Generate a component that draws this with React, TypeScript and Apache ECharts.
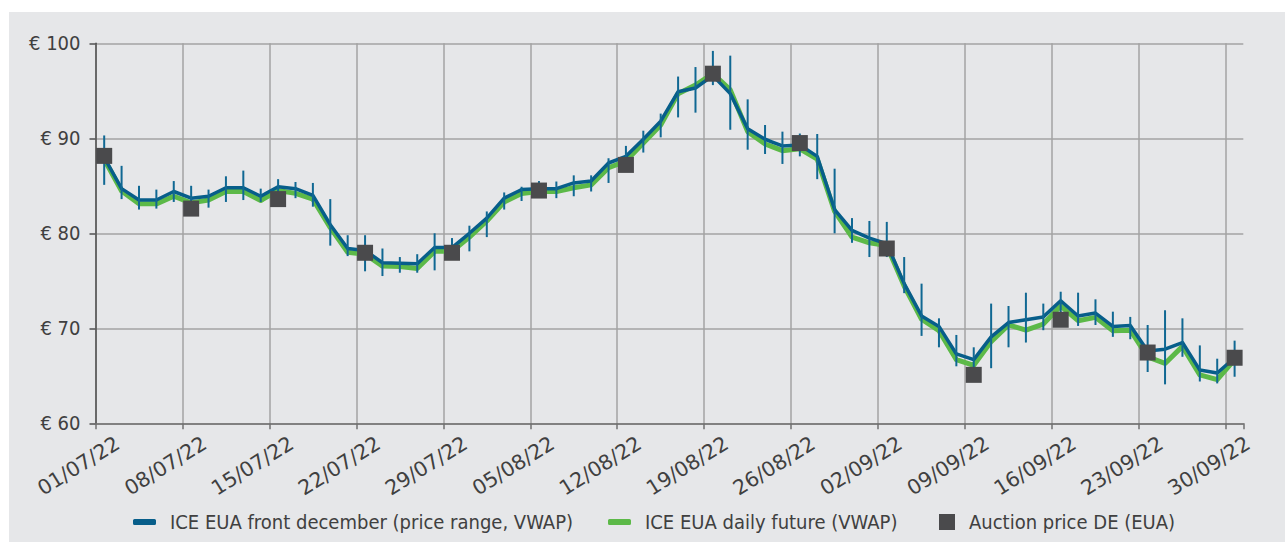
import React, { useEffect, useRef } from 'react';
import * as echarts from 'echarts';

const dates = [
  '01/07/22', '04/07/22', '05/07/22', '06/07/22', '07/07/22', '08/07/22', '11/07/22', '12/07/22', '13/07/22', '14/07/22',
  '15/07/22', '18/07/22', '19/07/22', '20/07/22', '21/07/22', '22/07/22', '25/07/22', '26/07/22', '27/07/22', '28/07/22',
  '29/07/22', '01/08/22', '02/08/22', '03/08/22', '04/08/22', '05/08/22', '08/08/22', '09/08/22', '10/08/22', '11/08/22',
  '12/08/22', '15/08/22', '16/08/22', '17/08/22', '18/08/22', '19/08/22', '22/08/22', '23/08/22', '24/08/22', '25/08/22',
  '26/08/22', '29/08/22', '30/08/22', '31/08/22', '01/09/22', '02/09/22', '05/09/22', '06/09/22', '07/09/22', '08/09/22',
  '09/09/22', '12/09/22', '13/09/22', '14/09/22', '15/09/22', '16/09/22', '19/09/22', '20/09/22', '21/09/22', '22/09/22',
  '23/09/22', '26/09/22', '27/09/22', '28/09/22', '29/09/22', '30/09/22',
];

const tickLabels = [
  '01/07/22', '08/07/22', '15/07/22', '22/07/22', '29/07/22', '05/08/22', '12/08/22',
  '19/08/22', '26/08/22', '02/09/22', '09/09/22', '16/09/22', '23/09/22', '30/09/22',
];

const frontDec = [
  88.0, 84.7, 83.5, 83.5, 84.4, 83.7, 83.9, 84.8, 84.8, 83.9,
  84.9, 84.7, 84.0, 80.9, 78.4, 78.2, 76.9, 76.85, 76.8, 78.5,
  78.5, 80.0, 81.6, 83.7, 84.6, 84.7, 84.7, 85.3, 85.5, 87.4,
  88.1, 89.9, 91.8, 94.9, 95.3, 96.6, 94.7, 91.0, 89.9, 89.2,
  89.3, 88.1, 82.5, 80.3, 79.5, 78.9, 74.7, 71.3, 70.2, 67.3,
  66.7, 69.1, 70.6, 70.9, 71.2, 72.9, 71.3, 71.6, 70.2, 70.3,
  67.6, 67.8, 68.5, 65.6, 65.3, 66.9,
];

const dailyFuture = [
  87.8, 84.45, 83.1, 83.1, 83.9, 83.2, 83.5, 84.4, 84.4, 83.45,
  84.5, 84.2, 83.6, 80.6, 78.0, 77.8, 76.55, 76.5, 76.3, 78.1,
  78.1, 79.6, 81.3, 83.3, 84.2, 84.4, 84.4, 84.8, 85.1, 86.9,
  87.6, 89.5, 91.4, 94.7, 95.6, 96.8, 95.1, 90.7, 89.4, 88.7,
  88.9, 87.8, 82.3, 79.6, 79.0, 78.7, 74.45, 70.95, 69.75, 66.7,
  66.1, 68.6, 70.35, 69.8, 70.45, 72.35, 70.8, 71.15, 69.75, 69.8,
  67.0, 66.3, 68.1, 65.1, 64.6, 66.7,
];

const rangeHigh = [
  90.3, 87.1, 85.0, 84.6, 85.5, 85.0, 84.6, 86.0, 86.6, 84.7,
  85.7, 85.4, 85.3, 83.6, 79.8, 79.8, 78.4, 77.5, 77.8, 80.0,
  79.5, 80.8, 82.3, 84.3, 84.9, 85.5, 85.45, 86.1, 86.1, 87.9,
  89.2, 90.8, 92.6, 96.5, 97.5, 99.2, 98.7, 94.1, 91.4, 90.7,
  90.5, 90.45, 86.8, 81.6, 81.3, 81.2, 77.5, 74.7, 71.05, 69.3,
  68.0, 72.6, 72.35, 73.75, 72.6, 73.85, 73.75, 73.05, 71.75, 71.2,
  70.35, 71.9, 71.05, 68.2, 66.8, 68.7,
];

const rangeLow = [
  85.1, 83.6, 82.5, 82.6, 83.3, 83.0, 82.7, 83.3, 83.5, 83.3,
  83.6, 83.7, 82.8, 78.7, 77.6, 76.0, 75.5, 75.85, 75.85, 76.1,
  77.3, 78.1, 79.6, 82.5, 83.4, 84.0, 83.7, 83.9, 84.4, 85.3,
  86.5, 88.5, 90.1, 92.2, 92.7, 95.6, 90.9, 88.8, 88.35, 87.3,
  88.1, 85.7, 80.0, 79.0, 77.5, 77.5, 73.7, 69.2, 68.0, 66.0,
  64.5, 65.8, 68.0, 68.5, 69.8, 70.3, 70.25, 70.35, 69.1, 68.85,
  65.4, 64.1, 67.0, 64.4, 64.2, 64.9,
];

const auctionDates = [
  '01/07/22', '08/07/22', '15/07/22', '22/07/22', '29/07/22', '05/08/22', '12/08/22',
  '19/08/22', '26/08/22', '02/09/22', '09/09/22', '16/09/22', '23/09/22', '30/09/22',
];
const auctionPrices = [88.15, 82.6, 83.6, 77.95, 77.95, 84.5, 87.2, 96.8, 89.5, 78.4, 65.1, 70.9, 67.45, 66.9];

const NAME_FRONT = 'ICE EUA front december (price range, VWAP)';
const NAME_DAILY = 'ICE EUA daily future (VWAP)';
const NAME_AUCTION = 'Auction price DE (EUA)';

const FONT = '"Liberation Sans Narrow", "DejaVu Sans Condensed", "Liberation Sans", sans-serif';
const DATE_FONT = '"DejaVu Sans", "Liberation Sans", sans-serif';
const TEXT = '#404040';
const BLUE = '#075e8a';
const BAR = '#106893';
const GREEN = '#5cb948';
const SQUARE = '#4a4a4c';
const GRIDC = '#a3a3a3';

export default function App() {
  const ref = useRef<HTMLDivElement>(null);

  useEffect(() => {
    const chart = echarts.init(ref.current!, null, { renderer: 'svg' });

    const gridLeft = 86.5;
    const gridTop = 31.3;
    const gridW = 1147.8;
    const gridH = 380;
    const bw = gridW / dates.length;

    const splitColors = tickLabels.map(() => GRIDC).concat(['rgba(0,0,0,0)']);
    const legendText = { color: TEXT, fontSize: 20, fontFamily: FONT, padding: [0, 0, 0, 9] };

    const option: any = {
      animation: false,
      backgroundColor: 'transparent',
      textStyle: { fontFamily: FONT },
      grid: [
        { left: gridLeft, top: gridTop, width: gridW, height: gridH },
        { left: gridLeft - 4, top: gridTop, width: gridW + bw, height: gridH },
      ],
      legend: [
        {
          data: [NAME_FRONT], left: 124, top: 500, padding: 0, icon: 'roundRect', itemWidth: 23, itemHeight: 6,
          textStyle: legendText,
        },
        {
          data: [NAME_DAILY], left: 599, top: 500, padding: 0, icon: 'roundRect', itemWidth: 23, itemHeight: 6,
          textStyle: legendText,
        },
        {
          data: [NAME_AUCTION], left: 930, top: 500, padding: 0, icon: 'rect', itemWidth: 16, itemHeight: 16,
          textStyle: legendText,
        },
      ],
      xAxis: [
        {
          type: 'category', gridIndex: 0, data: dates, boundaryGap: true,
          axisLine: { show: true, lineStyle: { color: '#707070', width: 1.5 } },
          axisTick: { show: true, length: 6, interval: (i: number, v: string) => tickLabels.includes(v), lineStyle: { color: '#707070', width: 1.5 } },
          axisLabel: { show: false },
          splitLine: { show: true, interval: (i: number, v: string) => tickLabels.includes(v), lineStyle: { color: splitColors, width: 1.5 } },
        },
        {
          type: 'category', gridIndex: 1, data: [''].concat(dates), boundaryGap: true,
          axisLine: { show: false }, axisTick: { show: false }, splitLine: { show: false },
          axisLabel: {
            show: true, interval: 0, rotate: 32, margin: 18,
            color: TEXT, fontSize: 20.5, fontFamily: DATE_FONT,
            formatter: (v: string) => (tickLabels.includes(v) ? v : ''),
          },
        },
      ],
      yAxis: [
        {
          type: 'value', gridIndex: 0, min: 60, max: 100, interval: 10,
          axisLine: { show: true, lineStyle: { color: '#505050', width: 1.5 } },
          axisTick: { show: true, length: 6, lineStyle: { color: '#505050', width: 1.5 } },
          axisLabel: { color: TEXT, fontSize: 20, fontFamily: FONT, margin: 15, formatter: (v: number) => '€ ' + v },
          splitLine: { show: true, lineStyle: { color: GRIDC, width: 1.5 } },
        },
        { type: 'value', gridIndex: 1, min: 60, max: 100, show: false },
      ],
      series: [
        {
          name: NAME_DAILY, type: 'line', xAxisIndex: 0, yAxisIndex: 0, data: dailyFuture,
          symbol: 'none', z: 2, color: GREEN,
          lineStyle: { color: GREEN, width: 5, join: 'round' },
        },
        {
          name: NAME_FRONT, type: 'line', xAxisIndex: 0, yAxisIndex: 0, data: frontDec,
          symbol: 'none', z: 3, color: BLUE,
          lineStyle: { color: BLUE, width: 3.5, join: 'round' },
        },
        {
          name: 'range', type: 'custom', xAxisIndex: 0, yAxisIndex: 0, z: 4,
          data: dates.map((d, i) => [i, rangeLow[i], rangeHigh[i]]),
          encode: { x: 0, y: [1, 2] },
          renderItem: (params: any, api: any) => {
            const p1 = api.coord([api.value(0), api.value(1)]);
            const p2 = api.coord([api.value(0), api.value(2)]);
            return {
              type: 'line',
              shape: { x1: p1[0], y1: p1[1], x2: p2[0], y2: p2[1] },
              style: { stroke: BAR, lineWidth: 2 },
            };
          },
        },
        {
          name: NAME_AUCTION, type: 'scatter', xAxisIndex: 0, yAxisIndex: 0, z: 5,
          symbol: 'rect', symbolSize: 16, color: SQUARE,
          itemStyle: { color: SQUARE, opacity: 1 },
          data: auctionDates.map((d, k) => [dates.indexOf(d), auctionPrices[k]]),
        },
        { name: 'labels', type: 'line', xAxisIndex: 1, yAxisIndex: 1, data: [], silent: true },
      ],
    };

    chart.setOption(option);
    return () => chart.dispose();
  }, []);

  return (
    <div
      ref={ref}
      style={{ position: 'fixed', left: 9, top: 12, width: 1276, height: 530, background: '#e6e7e9' }}
    />
  );
}
